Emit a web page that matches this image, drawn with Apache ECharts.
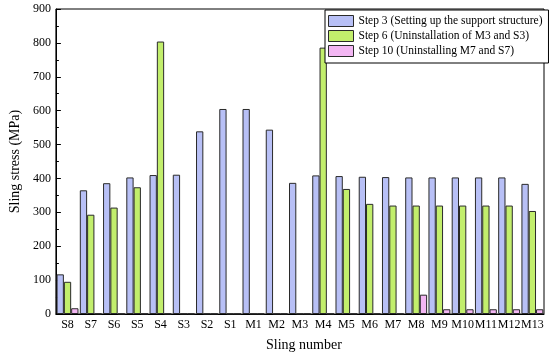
<!DOCTYPE html>
<html><head><meta charset="utf-8">
<script src="https://cdn.jsdelivr.net/npm/echarts@6/dist/echarts.min.js"></script>
<style>html,body{margin:0;padding:0;background:#fff}#c{width:550px;height:357px}</style>
</head><body><div id="c"></div>
<script>
const categories = ['S8','S7','S6','S5','S4','S3','S2','S1','M1','M2','M3','M4','M5','M6','M7','M8','M9','M10','M11','M12','M13'];
const step3 = [117,365,386,403,410,411,539,605,605,544,387,409,407,405,404,403,403,403,403,403,384];
const step6 = [95,293,314,374,804,1,1,1,1,1,1,786,369,325,320,320,320,320,320,320,304];
const step10 = [17,1,1,1,1,1,1,1,1,1,1,1,1,1,1,57,14,14,14,14,14];
const seriesNames = ['Step 3 (Setting up the support structure)','Step 6 (Uninstallation of M3 and S3)','Step 10 (Uninstalling M7 and S7)'];
const yTicks = [0,100,200,300,400,500,600,700,800,900];

const font = 'Liberation Serif, Times New Roman, serif';
const colors = ['#b8c0f6','#c2ee6c','#f3b6f3'];
const chart = echarts.init(document.getElementById('c'), null, {renderer:'canvas'});
const mk = (name, data, i) => ({
  name, type:'bar', data, barWidth:7.3, barGap:'0%',
  itemStyle:{color:colors[i], borderColor:'#2a2a2a', borderWidth:1}
});
chart.setOption({
  animation:false,
  textStyle:{fontFamily:font},
  grid:{left:46, right:6, top:9, bottom:41, show:true, borderColor:'#000', borderWidth:1},
  legend:{
    orient:'vertical', left:325, top:10, itemWidth:25, itemHeight:11, itemGap:3,
    icon:'rect',
    padding:[5,6,6,3], borderColor:'#000', borderWidth:1, backgroundColor:'#fff',
    textStyle:{fontFamily:font, fontSize:11.5, color:'#000'},
    itemStyle:{borderColor:'#2a2a2a', borderWidth:1},
    data:seriesNames
  },
  xAxis:{
    type:'category', data:categories,
    name:'Sling number', nameLocation:'middle', nameGap:24,
    nameTextStyle:{fontFamily:font, fontSize:14, color:'#000', padding:[0,0,0,8]},
    axisLine:{lineStyle:{color:'#000', width:1}},
    axisTick:{inside:true, alignWithLabel:true, length:4, lineStyle:{color:'#000'}},
    axisLabel:{fontFamily:font, fontSize:12, color:'#000', margin:5, interval:0}
  },
  yAxis:{
    type:'value', min:yTicks[0], max:yTicks[yTicks.length-1], interval:100,
    name:'Sling stress (MPa)', nameLocation:'middle', nameGap:24,
    nameTextStyle:{fontFamily:font, fontSize:14, color:'#000'},
    axisLine:{show:true, lineStyle:{color:'#000', width:1}},
    axisTick:{show:true, inside:true, length:5, lineStyle:{color:'#000'}},
    minorTick:{show:true, splitNumber:2, length:3, lineStyle:{color:'#000'}},
    splitLine:{show:false},
    axisLabel:{fontFamily:font, fontSize:12, color:'#000', margin:5}
  },
  series:[mk(seriesNames[0], step3, 0), mk(seriesNames[1], step6, 1), mk(seriesNames[2], step10, 2)]
});
</script></body></html>
